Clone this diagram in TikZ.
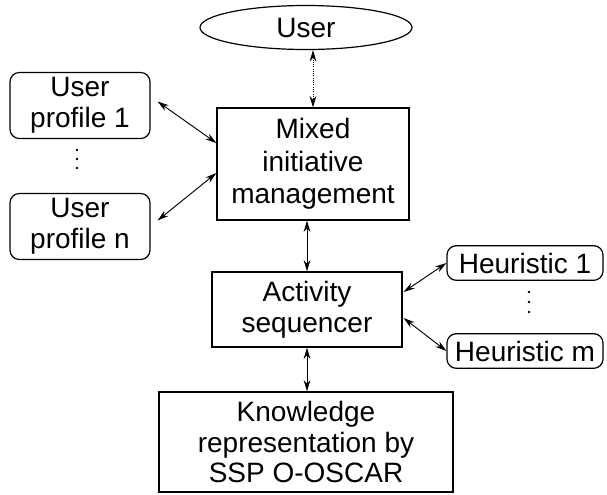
\documentclass[tikz,border=0pt]{standalone}
\usepackage{fontspec}
\setmainfont{Liberation Sans}
\usetikzlibrary{arrows.meta, shapes, positioning, calc}

\tikzset{
  blockbox/.style={draw, line width=0.9pt, align=center, inner sep=2pt},
  roundbox/.style={draw, line width=0.9pt, rounded corners=7pt, align=center, inner sep=2pt},
  biarrow/.style={line width=0.7pt, {Stealth[length=8.5pt,width=5pt]}-{Stealth[length=8.5pt,width=5pt]}},
  txt/.style={font=\fontsize{21}{23}\selectfont}
}

\begin{document}
\begin{tikzpicture}[x=0.75pt, y=-0.75pt]
  \useasboundingbox (0,0) rectangle (607,494);

  % Nodos principales
  \node[draw, ellipse, line width=0.9pt, minimum width=159pt, minimum height=33pt, inner sep=0pt, txt] (user) at (306,27.5) {User};
  \node[blockbox, minimum width=144pt, minimum height=84pt, txt, font=\fontsize{21}{24.5}\selectfont] (mixed) at (313,164) {Mixed\\initiative\\management};
  \node[blockbox, minimum width=142.5pt, minimum height=56.25pt, txt] (act) at (307,309.5) {Activity\\sequencer};
  \node[blockbox, minimum width=220.5pt, minimum height=75pt, txt] (know) at (306,442) {Knowledge\\representation by\\SSP O-OSCAR};

  % Perfiles de usuario
  \node[roundbox, minimum width=105pt, minimum height=49.5pt, txt] (prof1) at (80,105.5) {User\\profile 1};
  \node[roundbox, minimum width=105pt, minimum height=49.5pt, txt] (profn) at (80,226.5) {User\\profile n};
  \foreach \y in {150,159,168} \fill (77,\y) circle (1.1pt);

  % Heuristicas
  \node[roundbox, minimum width=117pt, minimum height=26pt, inner sep=0pt, txt] (heur1) at (525,263) {Heuristic 1};
  \node[roundbox, minimum width=117pt, minimum height=26pt, inner sep=0pt, txt] (heurm) at (525,351) {Heuristic m};
  \foreach \y in {292,302,312} \fill (529,\y) circle (1.1pt);

  % Conexiones
  \draw[biarrow, densely dotted] (mixed.north |- user.south) -- (mixed.north);
  \draw[biarrow] ($(prof1.east)+(7,-4)$) -- ($(mixed.west)+(0,-21)$);
  \draw[biarrow] ($(mixed.west)+(0,9)$) -- ($(profn.east)+(7,-6)$);
  \draw[biarrow] (act.north |- mixed.south) -- (act.north);
  \draw[biarrow] (act.south) -- (act.south |- know.north);
  \draw[biarrow] (heur1.west) -- ($(act.east)+(1,-17.5)$);
  \draw[biarrow] ($(act.east)+(1,8.5)$) -- (heurm.west);
\end{tikzpicture}
\end{document}
